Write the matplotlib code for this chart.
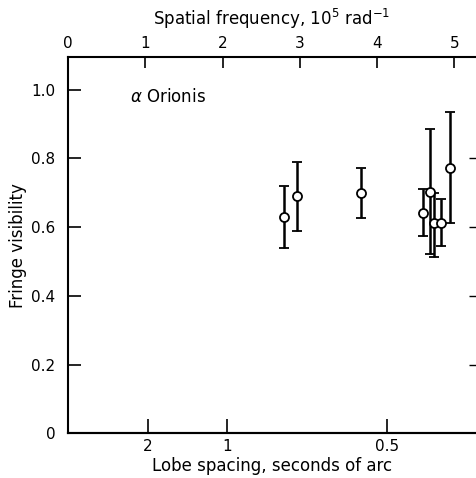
import matplotlib
matplotlib.use('Agg')
import matplotlib.pyplot as plt

# spatial frequency (10^5 rad^-1) and fringe visibility
freq = [2.79, 2.97, 3.79, 4.59, 4.68, 4.74, 4.83, 4.95]
vis = [0.629, 0.690, 0.700, 0.641, 0.702, 0.611, 0.611, 0.771]
err_hi = [0.721, 0.791, 0.771, 0.712, 0.886, 0.700, 0.683, 0.935]
err_lo = [0.540, 0.589, 0.628, 0.575, 0.522, 0.513, 0.545, 0.613]

freq_ticks = [0, 1, 2, 3, 4, 5]
lobe_ticks = [2, 1, 0.5]          # seconds of arc
vis_ticks = [0, 0.2, 0.4, 0.6, 0.8, 1.0]
vis_labels = ['0', '0.2', '0.4', '0.6', '0.8', '1.0']

ARCSEC = 2.06265  # 206265 arcsec/rad divided by 1e5

plt.rcParams['font.family'] = 'DejaVu Sans'

fig = plt.figure(figsize=(4.76, 4.78), dpi=100)
ax = fig.add_axes([0.1429, 0.0931, 0.857, 0.7877])

yerr = [[v - lo for v, lo in zip(vis, err_lo)],
        [hi - v for v, hi in zip(vis, err_hi)]]
ax.errorbar(freq, vis, yerr=yerr, fmt='o', mfc='white', mec='black', mew=1.3,
            ms=6.5, ecolor='black', elinewidth=1.8, capsize=3.5, capthick=1.4,
            color='black')

ax.set_xlim(0, 5.28)
ax.set_ylim(0, 1.095)

# top axis: spatial frequency
ax.xaxis.set_ticks_position('top')
ax.xaxis.set_label_position('top')
ax.set_xticks(freq_ticks)
ax.set_xticklabels([str(t) for t in freq_ticks])
ax.set_xlabel('Spatial frequency, $10^5$ rad$^{-1}$', fontsize=12, labelpad=8)
ax.tick_params(axis='x', direction='in', length=8, width=1.2, labelsize=11, pad=4)

ax.set_yticks(vis_ticks)
ax.set_yticklabels(vis_labels)
ax.set_ylabel('Fringe visibility', fontsize=12, labelpad=3)
ax.tick_params(axis='y', direction='in', length=9, width=1.2, labelsize=11, pad=9)

# bottom axis: lobe spacing (inverse of frequency)
sec = ax.secondary_xaxis('bottom')
sec.set_xticks([ARCSEC / l for l in lobe_ticks])
sec.set_xticklabels(['2', '1', '0.5'])
sec.set_xlabel('Lobe spacing, seconds of arc', fontsize=12, labelpad=2)
sec.tick_params(direction='in', length=10, width=1.2, labelsize=11, pad=4)

# short inward ticks on the right edge
rsec = ax.secondary_yaxis('right')
rsec.set_yticks(vis_ticks[1:-1])
rsec.set_yticklabels([])
rsec.tick_params(direction='in', length=5, width=1.0)

for s in ax.spines.values():
    s.set_linewidth(1.5)
sec.spines['bottom'].set_linewidth(1.5)
rsec.spines['right'].set_visible(False)
ax.spines['right'].set_visible(False)

ax.text(0.80, 0.979, r'$\alpha$ Orionis', fontsize=12, va='center', ha='left')

fig.savefig('out.png', dpi=100)
